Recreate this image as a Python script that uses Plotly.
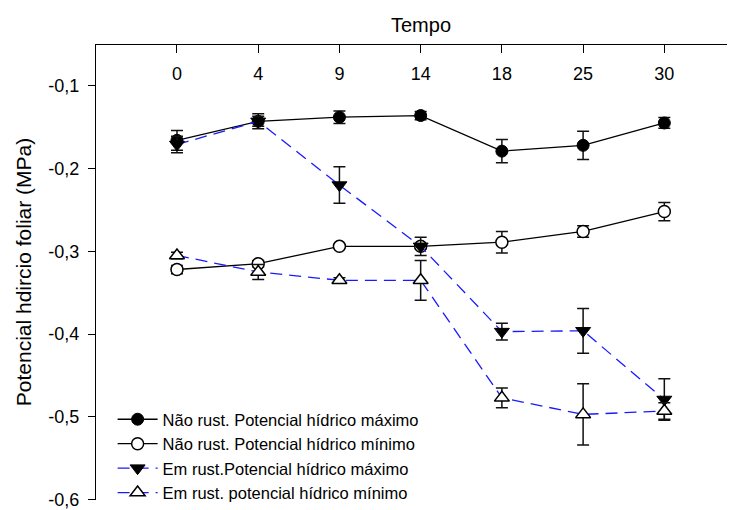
import plotly.graph_objects as go

tempo = ["0", "4", "9", "14", "18", "25", "30"]
xpos = [0, 1, 2, 3, 4, 5, 6]

nr_max = [-0.166, -0.143, -0.138, -0.136, -0.179, -0.172, -0.145]
nr_max_err = [0.012, 0.009, 0.0075, 0.005, 0.014, 0.017, 0.0065]

nr_min = [-0.322, -0.315, -0.294, -0.294, -0.289, -0.276, -0.252]
nr_min_err = [0.005, 0.004, 0.001, 0.003, 0.013, 0.007, 0.011]

er_max = [-0.171, -0.143, -0.220, -0.294, -0.397, -0.396, -0.479]
er_max_err = [0.01, 0.006, 0.022, 0.011, 0.01, 0.027, 0.025]

er_min = [-0.305, -0.325, -0.335, -0.335, -0.477, -0.497, -0.493]
er_min_err = [0.004, 0.009, 0.003, 0.024, 0.012, 0.037, 0.01]

y_ticks = [-0.1, -0.2, -0.3, -0.4, -0.5, -0.6]
y_ticktext = ["-0,1", "-0,2", "-0,3", "-0,4", "-0,5", "-0,6"]

names = [
    "Não rust. Potencial hídrico máximo",
    "Não rust. Potencial hídrico mínimo",
    "Em rust.Potencial hídrico máximo",
    "Em rust. potencial hídrico mínimo",
]

FONT = "Liberation Sans, Arial, sans-serif"
BLUE = "#1a1aff"
X_RANGE = [-0.997, 6.87]

def err(e):
    return dict(type="data", array=e, visible=True, color="#111111",
                thickness=1.5, width=6)

fig = go.Figure()
fig.add_trace(go.Scatter(
    x=xpos, y=nr_max, name=names[0], mode="lines+markers",
    line=dict(color="black", width=1.3),
    marker=dict(symbol="circle", size=12, color="black",
                line=dict(color="black", width=1)),
    error_y=err(nr_max_err)))
fig.add_trace(go.Scatter(
    x=xpos, y=nr_min, name=names[1], mode="lines+markers",
    line=dict(color="black", width=1.3),
    marker=dict(symbol="circle", size=12, color="white",
                line=dict(color="black", width=1.5)),
    error_y=err(nr_min_err)))
fig.add_trace(go.Scatter(
    x=xpos, y=er_max, name=names[2], mode="lines+markers",
    line=dict(color=BLUE, width=1.3, dash="12px,7px"),
    marker=dict(symbol="triangle-down", size=13, color="black",
                line=dict(color="black", width=1)),
    error_y=err(er_max_err)))
fig.add_trace(go.Scatter(
    x=xpos, y=er_min, name=names[3], mode="lines+markers",
    line=dict(color=BLUE, width=1.3, dash="12px,7px"),
    marker=dict(symbol="triangle-up", size=13, color="white",
                line=dict(color="black", width=1.5)),
    error_y=err(er_min_err)))

# page body has an 8px margin: figure is sized/offset to compensate
W, H = 727, 502
M_L, M_R, M_T, M_B = 88, 0, 36, 8
plot_h = H - M_T - M_B

fig.update_layout(
    width=W, height=H,
    margin=dict(l=M_L, r=M_R, t=M_T, b=M_B),
    paper_bgcolor="white", plot_bgcolor="white",
    font=dict(family=FONT, size=18, color="black"),
    showlegend=True,
    legend=dict(x=0.026, y=-0.022, xanchor="left", yanchor="bottom",
                bgcolor="rgba(0,0,0,0)", font=dict(size=16.5, color="black"),
                itemwidth=40, tracegroupgap=0),
    # x axis drawn along the top edge, ticks and labels hanging downward
    xaxis=dict(
        side="bottom", anchor="free", position=1,
        range=X_RANGE,
        tickmode="array", tickvals=xpos, ticktext=tempo,
        showline=True, linecolor="black", linewidth=1.2,
        ticks="outside", ticklen=8, tickcolor="black", tickwidth=1.2,
        ticklabelstandoff=5,
        tickfont=dict(size=18, color="black"),
        showgrid=False, zeroline=False,
        automargin=False,
    ),
    yaxis=dict(
        range=[-0.6004, -0.0496],
        tickmode="array", tickvals=y_ticks, ticktext=y_ticktext,
        showline=True, linecolor="black", linewidth=1.2,
        ticks="outside", ticklen=7, tickcolor="black", tickwidth=1.2,
        ticklabelstandoff=5,
        showgrid=False, zeroline=False,
        tickfont=dict(size=18, color="black"),
        title=dict(text="Potencial hdircio foliar (MPa)",
                   font=dict(size=21, color="black"), standoff=10),
        automargin=False,
    ),
    annotations=[dict(text="Tempo", x=3, xref="x",
                      y=(H - M_B - 17) / plot_h, yref="paper",
                      yanchor="middle", showarrow=False,
                      font=dict(size=20, color="black"))],
)

fig.write_html("out.html")
